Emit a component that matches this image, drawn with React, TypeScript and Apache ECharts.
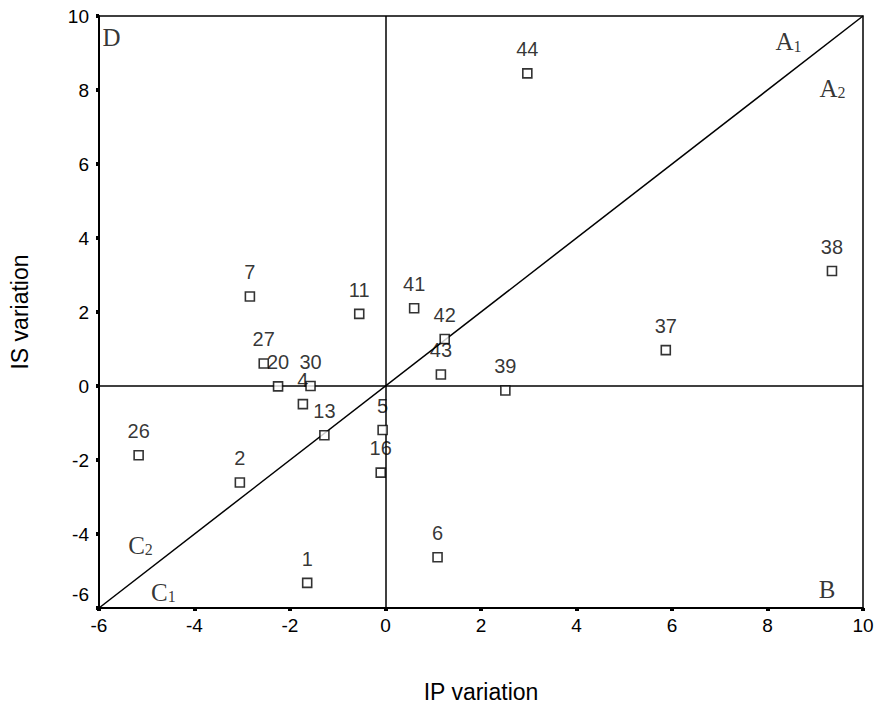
import React, { useEffect, useRef } from "react";
import * as echarts from "echarts";

const ids = ["1", "2", "4", "5", "6", "7", "11", "13", "16", "20", "26", "27", "30", "37", "38", "39", "41", "42", "43", "44"];
const ipVariation = [-1.64, -3.05, -1.73, -0.06, 1.09, -2.84, -0.55, -1.28, -0.1, -2.25, -5.17, -2.55, -1.57, 5.87, 9.35, 2.51, 0.6, 1.24, 1.16, 2.97];
const isVariation = [-5.32, -2.61, -0.49, -1.19, -4.63, 2.42, 1.95, -1.33, -2.34, -0.01, -1.87, 0.61, 0.0, 0.97, 3.11, -0.12, 2.1, 1.27, 0.31, 8.45];

const diagonalX = [-6, 10];
const diagonalY = [-6, 10];

const regionNames = ["D", "A", "A", "B", "C", "C"];
const regionSubs = ["", "1", "2", "", "2", "1"];
const regionX = [-5.74, 8.44, 9.36, 9.25, -5.13, -4.65];
const regionY = [9.41, 9.3, 8.05, -5.49, -4.3, -5.57];

const xTicks = { min: -6, max: 10, interval: 2 };
const yTicks = { min: -6, max: 10, interval: 2 };

export default function App() {
  const ref = useRef<HTMLDivElement>(null);
  useEffect(() => {
    document.body.style.margin = "0";
    const chart = echarts.init(ref.current!, null, { renderer: "svg" });
    const sans = "Liberation Sans, Arial, sans-serif";
    const serif = "Liberation Serif, Times New Roman, serif";
    chart.setOption({
      animation: false,
      backgroundColor: "#fff",
      grid: {
        left: 94,
        right: 14,
        top: 16,
        bottom: 105,
        show: true,
        borderColor: "#000",
        borderWidth: 1.5,
      },
      xAxis: {
        type: "value",
        min: xTicks.min,
        max: xTicks.max,
        interval: xTicks.interval,
        name: "IP variation",
        nameLocation: "middle",
        nameGap: 72,
        nameTextStyle: { fontFamily: sans, fontSize: 23, color: "#000" },
        axisLine: { onZero: false, lineStyle: { color: "#000", width: 2 } },
        axisTick: { length: 3, lineStyle: { color: "#000", width: 4 } },
        axisLabel: { fontFamily: sans, fontSize: 19, color: "#000", margin: 8 },
        splitLine: { show: false },
      },
      yAxis: {
        type: "value",
        min: yTicks.min,
        max: yTicks.max,
        interval: yTicks.interval,
        name: "IS variation",
        nameLocation: "middle",
        nameGap: 68,
        nameTextStyle: { fontFamily: sans, fontSize: 23, color: "#000" },
        axisLine: { onZero: false, lineStyle: { color: "#000", width: 2 } },
        axisTick: { length: 3, lineStyle: { color: "#000", width: 4 } },
        axisLabel: {
          fontFamily: sans,
          fontSize: 19,
          color: "#000",
          margin: 10,
          formatter: (v: number) => (v === yTicks.min ? "{low|" + v + "}" : String(v)),
          rich: { low: { fontFamily: sans, fontSize: 19, color: "#000", padding: [0, 0, 28, 0] } },
        },
        splitLine: { show: false },
      },
      series: [
        {
          type: "line",
          data: diagonalX.map((x, i) => [x, diagonalY[i]]),
          symbol: "none",
          silent: true,
          lineStyle: { color: "#000", width: 1.5 },
          markLine: {
            silent: true,
            symbol: "none",
            label: { show: false },
            lineStyle: { color: "#000", width: 1.5, type: "solid" },
            data: [{ xAxis: 0 }, { yAxis: 0 }],
          },
        },
        {
          type: "scatter",
          data: ids.map((id, i) => ({ value: [ipVariation[i], isVariation[i]], name: id })),
          symbol: "rect",
          symbolSize: 9,
          itemStyle: { color: "#fff", borderColor: "#000", borderWidth: 1.6 },
          label: {
            show: true,
            position: "top",
            distance: 9,
            formatter: (p: any) => p.name,
            fontFamily: sans,
            fontSize: 20,
            color: "#000",
          },
          z: 5,
        },
        {
          type: "scatter",
          silent: true,
          symbolSize: 0,
          data: regionNames.map((n, i) => ({ value: [regionX[i], regionY[i]], name: n, sub: regionSubs[i] })),
          label: {
            show: true,
            position: "inside",
            color: "#000",
            formatter: (p: any) =>
              "{m|" + p.data.name + "}" + (p.data.sub ? "{s|" + p.data.sub + "}" : ""),
            rich: {
              m: { fontFamily: serif, fontSize: 25, color: "#000" },
              s: { fontFamily: serif, fontSize: 16, color: "#000", verticalAlign: "bottom", padding: [8, 0, 0, 0] },
            },
          },
        },
      ],
    });
    return () => chart.dispose();
  }, []);
  return <div ref={ref} style={{ width: 877, height: 713 }} />;
}
